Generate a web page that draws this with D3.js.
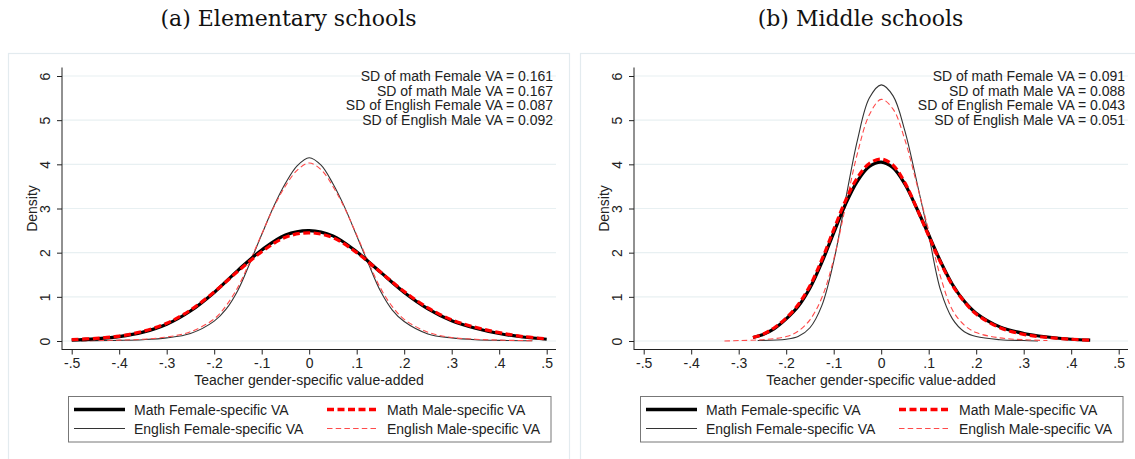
<!DOCTYPE html>
<head>
<meta charset="utf-8">
<title>Teacher gender-specific value-added densities</title>
<script src="https://d3js.org/d3.v7.min.js"></script>
<style>
body { margin: 0; background: #fff; }
text { font-family: "Liberation Sans", Arial, sans-serif; fill: #222; }
</style>
</head>
<body>
<script>
// panel titles and the SD notes
var panelTitles = ["(a) Elementary schools", "(b) Middle schools"];
var sdNotes = [
  ["SD of math Female VA = 0.161", "SD of math Male VA = 0.167",
   "SD of English Female VA = 0.087", "SD of English Male VA = 0.092"],
  ["SD of math Female VA = 0.091", "SD of math Male VA = 0.088",
   "SD of English Female VA = 0.043", "SD of English Male VA = 0.051"]
];
var seriesNames = ["Math Female-specific VA", "Math Male-specific VA",
                   "English Female-specific VA", "English Male-specific VA"];
var xTicks = [-0.5, -0.4, -0.3, -0.2, -0.1, 0, 0.1, 0.2, 0.3, 0.4, 0.5];
var yTicks = [0, 1, 2, 3, 4, 5, 6];

// (a) elementary schools
var elemMathX = [-0.5, -0.45, -0.4, -0.35, -0.3, -0.25, -0.2, -0.15, -0.1, -0.05, 0,
                 0.05, 0.1, 0.15, 0.2, 0.25, 0.3, 0.35, 0.4, 0.45, 0.5];
var elemMathFemale = [0.02, 0.05, 0.10, 0.20, 0.38, 0.68, 1.10, 1.60, 2.06, 2.40, 2.50,
                      2.38, 2.02, 1.56, 1.10, 0.73, 0.46, 0.29, 0.17, 0.09, 0.04];
var elemMathMale = [0.03, 0.06, 0.11, 0.22, 0.40, 0.70, 1.11, 1.58, 2.02, 2.35, 2.45,
                    2.34, 2.00, 1.56, 1.12, 0.75, 0.48, 0.31, 0.19, 0.10, 0.05];
var elemEngX = [-0.48, -0.45, -0.4, -0.35, -0.3, -0.25, -0.2, -0.175, -0.15, -0.125, -0.1,
                -0.075, -0.05, -0.025, 0, 0.025, 0.05, 0.075, 0.1, 0.125, 0.15, 0.175,
                0.2, 0.25, 0.3, 0.35, 0.4, 0.45, 0.47];
var elemEngFemale = [0.005, 0.008, 0.015, 0.03, 0.07, 0.17, 0.45, 0.72, 1.15, 1.76, 2.41,
                     3.04, 3.57, 3.97, 4.15, 3.98, 3.56, 3.02, 2.38, 1.74, 1.13, 0.70,
                     0.44, 0.16, 0.07, 0.03, 0.015, 0.007, 0.005];
var elemEngMale = [0.005, 0.01, 0.02, 0.04, 0.09, 0.21, 0.50, 0.80, 1.22, 1.80, 2.42,
                   3.02, 3.51, 3.87, 4.03, 3.88, 3.50, 3.00, 2.40, 1.78, 1.20, 0.78,
                   0.49, 0.20, 0.08, 0.04, 0.02, 0.01, 0.005];

// (b) middle schools
var midMathX = [-0.27, -0.25, -0.225, -0.2, -0.175, -0.15, -0.125, -0.1, -0.075, -0.05, -0.025, 0,
                0.025, 0.05, 0.075, 0.1, 0.125, 0.15, 0.175, 0.2, 0.25, 0.3, 0.35, 0.4, 0.44];
var midMathFemale = [0.08, 0.14, 0.28, 0.50, 0.78, 1.20, 1.78, 2.45, 3.10, 3.62, 3.95, 4.05,
                     3.92, 3.55, 3.00, 2.40, 1.80, 1.28, 0.90, 0.63, 0.32, 0.17, 0.09, 0.04, 0.02];
var midMathMale = [0.08, 0.15, 0.30, 0.52, 0.82, 1.25, 1.84, 2.52, 3.18, 3.70, 4.02, 4.12,
                   3.98, 3.58, 3.00, 2.38, 1.78, 1.26, 0.89, 0.61, 0.30, 0.15, 0.08, 0.04, 0.02];
var midEngFemaleX = [-0.26, -0.2, -0.175, -0.15, -0.125, -0.1, -0.075, -0.05, -0.025, 0,
                     0.025, 0.05, 0.075, 0.1, 0.125, 0.15, 0.175, 0.2, 0.25, 0.3, 0.33];
var midEngFemale = [0.01, 0.04, 0.10, 0.30, 0.80, 1.80, 3.20, 4.55, 5.50, 5.80,
                    5.55, 4.75, 3.60, 2.40, 1.15, 0.50, 0.21, 0.10, 0.03, 0.01, 0.0];
var midEngMaleX = [-0.33, -0.3, -0.25, -0.2, -0.175, -0.15, -0.125, -0.1, -0.075, -0.05, -0.025, 0,
                   0.025, 0.05, 0.075, 0.1, 0.125, 0.15, 0.175, 0.2, 0.25, 0.3, 0.35];
var midEngMale = [0.0, 0.01, 0.03, 0.10, 0.22, 0.48, 0.98, 1.85, 3.05, 4.25, 5.12, 5.47,
                  5.25, 4.55, 3.55, 2.50, 1.45, 0.70, 0.36, 0.19, 0.07, 0.03, 0.01];

var panels = [
  { mathF: d3.zip(elemMathX, elemMathFemale), mathM: d3.zip(elemMathX, elemMathMale),
    engF: d3.zip(elemEngX, elemEngFemale), engM: d3.zip(elemEngX, elemEngMale) },
  { mathF: d3.zip(midMathX, midMathFemale), mathM: d3.zip(midMathX, midMathMale),
    engF: d3.zip(midEngFemaleX, midEngFemale), engM: d3.zip(midEngMaleX, midEngMale) }
];

// line styles, same order as seriesNames
var styles = [
  { color: "#000", width: 3.2, dash: null },
  { color: "#ff0000", width: 3.2, dash: "7,3.5" },
  { color: "#333", width: 1.1, dash: null },
  { color: "#ff4a4a", width: 1.1, dash: "5.5,3.2" }
];

var width = 1135, height = 459;
var svg = d3.select("body").append("svg")
  .attr("width", width)
  .attr("height", height)
  .attr("xmlns", "http://www.w3.org/2000/svg");

function fmtTick(d) {
  if (d === 0) return "0";
  return (d < 0 ? "-" : "") + String(Math.abs(Math.round(d * 10) / 10)).replace("0.", ".");
}

function drawPanel(p, i) {
  var ox = i * 572;
  var g = svg.append("g");

  // outer frame
  g.append("rect")
    .attr("x", 8.5 + ox).attr("y", 53.5)
    .attr("width", 561).attr("height", 420)
    .attr("fill", "#fff").attr("stroke", "#e3ebef").attr("stroke-width", 1.2);

  g.append("text")
    .attr("x", 288.5 + ox).attr("y", 26)
    .attr("text-anchor", "middle")
    .style("font-family", "'DejaVu Serif', serif")
    .style("font-size", "22px")
    .style("fill", "#111")
    .text(panelTitles[i]);

  var x = d3.scaleLinear().domain([-0.5, 0.5]).range([71.7 + ox, 546.7 + ox]);
  var y = d3.scaleLinear().domain([0, 6]).range([341, 76]);

  // grid lines
  g.selectAll(".grid").data(yTicks).enter().append("line")
    .attr("x1", 62 + ox).attr("x2", 556 + ox)
    .attr("y1", function(d) { return y(d); })
    .attr("y2", function(d) { return y(d); })
    .attr("stroke", "#e8f0f2").attr("stroke-width", 1.2);

  // y axis
  var ya = g.append("g").attr("transform", "translate(" + (62 + ox) + ",0)")
    .call(d3.axisLeft(y).tickValues(yTicks).tickSize(5).tickFormat(d3.format("d")));
  ya.select(".domain").remove();
  ya.selectAll("line").attr("stroke", "#222");
  ya.selectAll("text")
    .attr("x", null).attr("dy", null)
    .attr("transform", "translate(-17,0) rotate(-90)")
    .attr("text-anchor", "middle")
    .attr("dominant-baseline", "central")
    .style("font-size", "14px");

  // x axis
  var xa = g.append("g").attr("transform", "translate(0,349.5)")
    .call(d3.axisBottom(x).tickValues(xTicks).tickSize(5).tickFormat(fmtTick));
  xa.select(".domain").remove();
  xa.selectAll("line").attr("stroke", "#222");
  xa.selectAll("text").attr("y", 9).style("font-size", "14px");

  g.append("line").attr("x1", 62 + ox).attr("x2", 62 + ox).attr("y1", 67.5).attr("y2", 350)
    .attr("stroke", "#222").attr("stroke-width", 1);
  g.append("line").attr("x1", 62 + ox).attr("x2", 556 + ox).attr("y1", 349.5).attr("y2", 349.5)
    .attr("stroke", "#222").attr("stroke-width", 1);

  g.append("text")
    .attr("transform", "translate(" + (32 + ox) + ",208.5) rotate(-90)")
    .attr("text-anchor", "middle").attr("dominant-baseline", "central")
    .style("font-size", "14px")
    .text("Density");
  g.append("text")
    .attr("x", 309 + ox).attr("y", 380)
    .attr("text-anchor", "middle").attr("dominant-baseline", "central")
    .style("font-size", "14px")
    .text("Teacher gender-specific value-added");

  // SD notes
  g.selectAll(".note").data(sdNotes[i]).enter().append("text")
    .attr("x", 553 + ox)
    .attr("y", function(d, k) { return 76 + k * 14.67; })
    .attr("text-anchor", "end").attr("dominant-baseline", "central")
    .style("font-size", "14px")
    .text(function(d) { return d; });

  // curves: english first, math on top
  var line = d3.line()
    .x(function(d) { return x(d[0]); })
    .y(function(d) { return y(Math.max(0, d[1])); })
    .curve(d3.curveCatmullRom.alpha(0.5));
  var order = [[p.engF, 2], [p.engM, 3], [p.mathF, 0], [p.mathM, 1]];
  order.forEach(function(o) {
    var s = styles[o[1]];
    g.append("path").datum(o[0])
      .attr("d", line)
      .attr("fill", "none")
      .attr("stroke", s.color)
      .attr("stroke-width", s.width)
      .attr("stroke-dasharray", s.dash);
  });

  // legend
  g.append("rect")
    .attr("x", 68.5 + ox).attr("y", 396.5)
    .attr("width", 482.5).attr("height", 45.5)
    .attr("fill", "#fff").attr("stroke", "#777").attr("stroke-width", 1);
  var cols = [74, 327], rows = [409.5, 428.5];
  seriesNames.forEach(function(name, k) {
    var cx = cols[k % 2] + ox, cy = rows[Math.floor(k / 2)];
    var s = styles[k];
    g.append("line")
      .attr("x1", cx).attr("x2", cx + 51).attr("y1", cy).attr("y2", cy)
      .attr("stroke", s.color)
      .attr("stroke-width", k < 2 ? 3.6 : 1.2)
      .attr("stroke-dasharray", s.dash);
    g.append("text")
      .attr("x", cx + 60).attr("y", cy)
      .attr("dominant-baseline", "central")
      .style("font-size", "14px")
      .text(name);
  });
}

panels.forEach(drawPanel);
</script>
</body>
